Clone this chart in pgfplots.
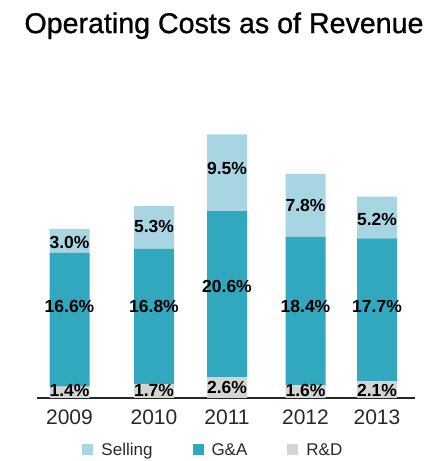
\documentclass[border=0pt]{standalone}
\usepackage{fontspec}
\setmainfont{Liberation Sans}
\newfontface\titlefont{Liberation Sans}[FakeBold=0.9]
\usepackage{pgfplots}
\pgfplotsset{compat=1.18}
\definecolor{selling}{RGB}{168,213,226}
\definecolor{gna}{RGB}{50,168,190}
\definecolor{rnd}{RGB}{212,212,212}
\definecolor{axisgray}{RGB}{40,40,40}

\pgfplotsset{
  base/.style={
    scale only axis, width=378bp, height=274bp,
    xmin=37, xmax=415, ymin=0, ymax=34,
    at={(37bp,63bp)}, anchor=south west,
    clip=false,
  }
}

\begin{document}
\begin{tikzpicture}
\useasboundingbox (0,0) rectangle (430bp,461bp);
% stacked bars
\begin{axis}[base,
    ybar stacked, bar width=40,
    axis x line*=bottom, axis y line=none,
    x axis line style={axisgray, line width=1.2bp},
    xtick=data, xticklabels={2009,2010,2011,2012,2013},
    major tick length=0pt,
    xticklabel style={font=\fontsize{21bp}{24bp}\selectfont, text=axisgray,
      inner sep=0pt, yshift=-12bp},
]
\addplot[fill=rnd, draw=none] coordinates {(69.5,1.4) (154,1.7) (227,2.6) (305.5,1.6) (377,2.1)};
\addplot[fill=gna, draw=none] coordinates {(69.5,16.6) (154,16.8) (227,20.6) (305.5,18.4) (377,17.7)};
\addplot[fill=selling, draw=none] coordinates {(69.5,3.0) (154,5.3) (227,9.5) (305.5,7.8) (377,5.2)};
\end{axis}
% value labels, legend, title
\begin{axis}[base, hide axis,
    title={Operating Costs as of Revenue},
    title style={at={(0.4947,1.31)}, anchor=base,
      font=\titlefont\fontsize{28.6bp}{32bp}\selectfont},
    legend columns=3,
    legend image code/.code={\fill[#1, draw=none] (0bp,-5.5bp) rectangle (11bp,5.5bp);},
    legend style={at={(0.464,-0.1895)}, anchor=center, draw=none, fill=none,
      font=\fontsize{17bp}{20bp}\selectfont, text=axisgray,
      nodes={inner sep=0pt},
      /tikz/every odd column/.append style={column sep=8bp},
      /tikz/every even column/.append style={column sep=40bp}},
]
\addlegendimage{fill=selling, draw=none}\addlegendentry{Selling}
\addlegendimage{fill=gna, draw=none}\addlegendentry{G\&A}
\addlegendimage{fill=rnd, draw=none}\addlegendentry{R\&D}
\addplot[only marks, mark=none, forget plot,
    nodes near coords, point meta=explicit symbolic,
    nodes near coords align={center},
    every node near coord/.append style={anchor=center, inner sep=0pt, text=black,
      font=\bfseries\fontsize{17.5bp}{20bp}\selectfont}]
  table[meta=lab] {
x y lab
69.5 19.24 3.0\%
154 21.23 5.3\%
227 28.5 9.5\%
305.5 23.9 7.8\%
377 22.2 5.2\%
69.5 11.4 16.6\%
154 11.4 16.8\%
227 13.9 20.6\%
305.5 11.4 18.4\%
377 11.4 17.7\%
69.5 0.95 1.4\%
154 0.95 1.7\%
227 1.3 2.6\%
305.5 0.95 1.6\%
377 0.95 2.1\%
};
\end{axis}
\end{tikzpicture}
\end{document}
